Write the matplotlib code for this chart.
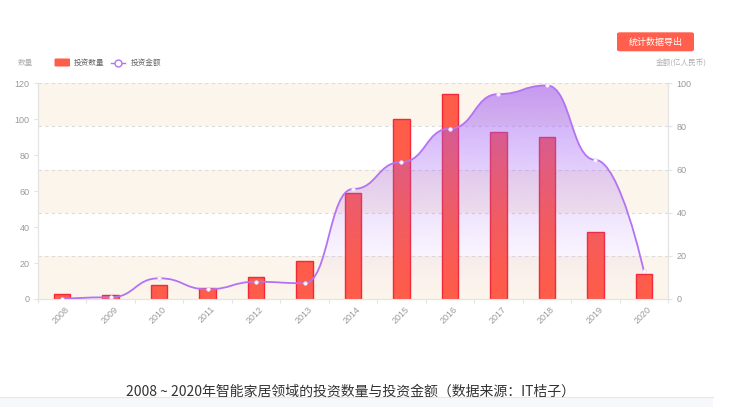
import numpy as np
import matplotlib
matplotlib.use("Agg")
import matplotlib.pyplot as plt
from matplotlib.path import Path
from matplotlib.patches import PathPatch, FancyBboxPatch, Rectangle
from matplotlib.lines import Line2D
import matplotlib.transforms as mtransforms

plt.rcParams["font.family"] = ["Noto Sans CJK SC", "DejaVu Sans"]
NUM_FONT = ["Liberation Sans", "Noto Sans CJK SC"]

# ---- data -------------------------------------------------------------
years = ["2008", "2009", "2010", "2011", "2012", "2013", "2014",
         "2015", "2016", "2017", "2018", "2019", "2020"]
deal_counts = [3, 2, 8, 6, 12, 21, 59, 100, 114, 93, 90, 37, 14]
amounts = [0.1, 0.8, 9.6, 4.5, 8.0, 7.3, 51.0, 63.5, 79.0, 95.0, 99.0, 64.5, 13.0]
count_ticks = [0, 20, 40, 60, 80, 100, 120]
amount_ticks = [0, 20, 40, 60, 80, 100]

# ---- style ------------------------------------------------------------
W, H = 730, 407
BAR_FILL = "#ff5c4a"
BAR_EDGE = "#f5283a"
LINE_COLOR = "#b473f4"
BAND_COLOR = "#fcf5eb"
GRID_COLOR = "#dcdcdc"
TICK_COLOR = "#9a9a9a"
AXIS_COLOR = "#e4e4e4"

fig = plt.figure(figsize=(W / 100, H / 100), dpi=100)
fig.patch.set_facecolor("white")


def fx(px):
    return px / W


def fy(py):
    return 1 - py / H


ax = fig.add_axes([fx(38), fy(299), fx(668) - fx(38), fy(83.3) - fy(299)])
ax2 = ax.twinx()

n = len(years)
x = np.arange(n)
ax.set_xlim(-0.5, n - 0.5)
ax.set_ylim(count_ticks[0], count_ticks[-1])
ax2.set_ylim(amount_ticks[0], amount_ticks[-1])
scale = count_ticks[-1] / amount_ticks[-1]

# alternating background bands and dashed split lines (right-axis ticks)
for i in range(0, len(amount_ticks) - 1, 2):
    ax.axhspan(amount_ticks[i] * scale, amount_ticks[i + 1] * scale,
               color=BAND_COLOR, zorder=0, lw=0)
for t in amount_ticks[1:]:
    ax.axhline(t * scale, color=GRID_COLOR, lw=0.8, dashes=(3, 3), zorder=0.5)

# bars
ax.bar(x, deal_counts, width=0.34, color=BAR_FILL, edgecolor=BAR_EDGE,
       linewidth=1.0, zorder=2)

# axes styling
for a in (ax, ax2):
    a.spines["top"].set_visible(False)
    for s in ("left", "right", "bottom"):
        a.spines[s].set_color(AXIS_COLOR)
        a.spines[s].set_linewidth(0.8)
ax.set_yticks(count_ticks)
ax2.set_yticks(amount_ticks)
for a in (ax, ax2):
    a.tick_params(axis="y", colors=AXIS_COLOR, labelcolor=TICK_COLOR,
                  labelsize=6.5, length=3, width=0.8, pad=3)
    for lbl in a.get_yticklabels():
        lbl.set_family(NUM_FONT)
ax.set_xticks(x)
ax.set_xticklabels(years, rotation=45, ha="right", va="top",
                   rotation_mode="anchor", fontsize=6.5, color=TICK_COLOR,
                   family=NUM_FONT)
ax.set_xticks(np.arange(-0.5, n, 1.0), minor=True)
ax.tick_params(axis="x", which="major", length=0, pad=4)
ax.tick_params(axis="x", which="minor", length=3, color=AXIS_COLOR, width=0.8)
offset = mtransforms.ScaledTranslation(3 / 100, 0, fig.dpi_scale_trans)
for lbl in ax.get_xticklabels():
    lbl.set_transform(lbl.get_transform() + offset)

# smooth amount line: monotone-in-x cubic segments, horizontal handles
smooth = 0.5
verts = [(x[0], amounts[0])]
codes = [Path.MOVETO]
cp_out = (x[0], amounts[0])
for i in range(1, n):
    xi, yi = x[i], amounts[i]
    dx_prev = x[i] - x[i - 1]
    if i < n - 1:
        cp_in = (xi - dx_prev * smooth, yi)
        next_out = (xi + (x[i + 1] - xi) * smooth, yi)
    else:
        cp_in = (xi, yi)
        next_out = (xi, yi)
    verts += [cp_out, cp_in, (xi, yi)]
    codes += [Path.CURVE4] * 3
    cp_out = next_out
curve_data = np.array(verts, dtype=float)
line_path = Path(curve_data, codes)

# area under the line with a vertical gradient
area_verts = np.vstack([curve_data, [[x[-1], 0], [x[0], 0], curve_data[0]]])
area_codes = codes + [Path.LINETO, Path.LINETO, Path.CLOSEPOLY]
area_patch = PathPatch(Path(area_verts, area_codes), facecolor="none",
                       edgecolor="none", zorder=3)
ax2.add_patch(area_patch)
top = max(amounts)
tt = np.linspace(0, 1, 256)[:, None]
grad = np.zeros((256, 1, 4))
grad[..., 0] = 160 / 255
grad[..., 1] = 92 / 255
grad[..., 2] = 245 / 255
grad[..., 3] = 0.6 * tt ** 1.4
img = ax2.imshow(grad, extent=[-0.5, n - 0.5, 0, top], origin="lower",
                 aspect="auto", zorder=3, interpolation="bilinear")
img.set_clip_path(area_patch)

ax2.add_patch(PathPatch(line_path, facecolor="none", edgecolor=LINE_COLOR,
                        lw=1.3, zorder=4))
ax2.plot(x, amounts, "o", ms=2.6, mfc="white", mec="#e6d4fb", mew=0.5,
         zorder=5)
ax2.set_xlim(-0.5, n - 0.5)
ax2.set_ylim(amount_ticks[0], amount_ticks[-1])

# axis names
fig.text(fx(25), fy(63.5), "数量", fontsize=5.5, color="#b0b0b0",
         ha="center", va="center")
fig.text(fx(707), fy(63.5), "金额(亿人民币)", fontsize=5.5, color="#b0b0b0",
         ha="right", va="center")

# legend
fig.patches.append(FancyBboxPatch((fx(54.5), fy(66.5)), fx(15.5), fy(58.5) - fy(66.5),
                                  boxstyle="round,pad=0,rounding_size=0.002",
                                  transform=fig.transFigure, facecolor=BAR_FILL,
                                  edgecolor="none"))
fig.text(fx(74), fy(62.5), "投资数量", fontsize=5.5, color="#666666",
         ha="left", va="center")
fig.lines.append(Line2D([fx(111), fx(125)], [fy(62.5), fy(62.5)],
                        transform=fig.transFigure, color=LINE_COLOR, lw=1.0))
fig.lines.append(Line2D([fx(118)], [fy(62.5)], transform=fig.transFigure,
                        marker="o", ms=5, mfc="white", mec=LINE_COLOR, mew=1.0))
fig.text(fx(131), fy(62.5), "投资金额", fontsize=5.5, color="#666666",
         ha="left", va="center")

# export button
fig.patches.append(FancyBboxPatch((fx(617), fy(51.3)), fx(77), fy(32.3) - fy(51.3),
                                  boxstyle="round,pad=0,rounding_size=0.004",
                                  transform=fig.transFigure, facecolor="#ff5f4c",
                                  edgecolor="none"))
fig.text(fx(655.5), fy(42), "统计数据导出", fontsize=6.5, color="white",
         ha="center", va="center")

# caption and footer strip
fig.text(fx(350), fy(391.5), "2008 ~ 2020年智能家居领域的投资数量与投资金额（数据来源：IT桔子）",
         fontsize=10, color="#333333", ha="center", va="center")
fig.patches.append(Rectangle((0, 0), fx(713), fy(397), transform=fig.transFigure,
                             facecolor="#f7f8fb", edgecolor="none"))
fig.lines.append(Line2D([0, fx(713)], [fy(397), fy(397)], transform=fig.transFigure,
                        color="#e6e7ee", lw=0.8))

fig.savefig("out.png", dpi=100)
